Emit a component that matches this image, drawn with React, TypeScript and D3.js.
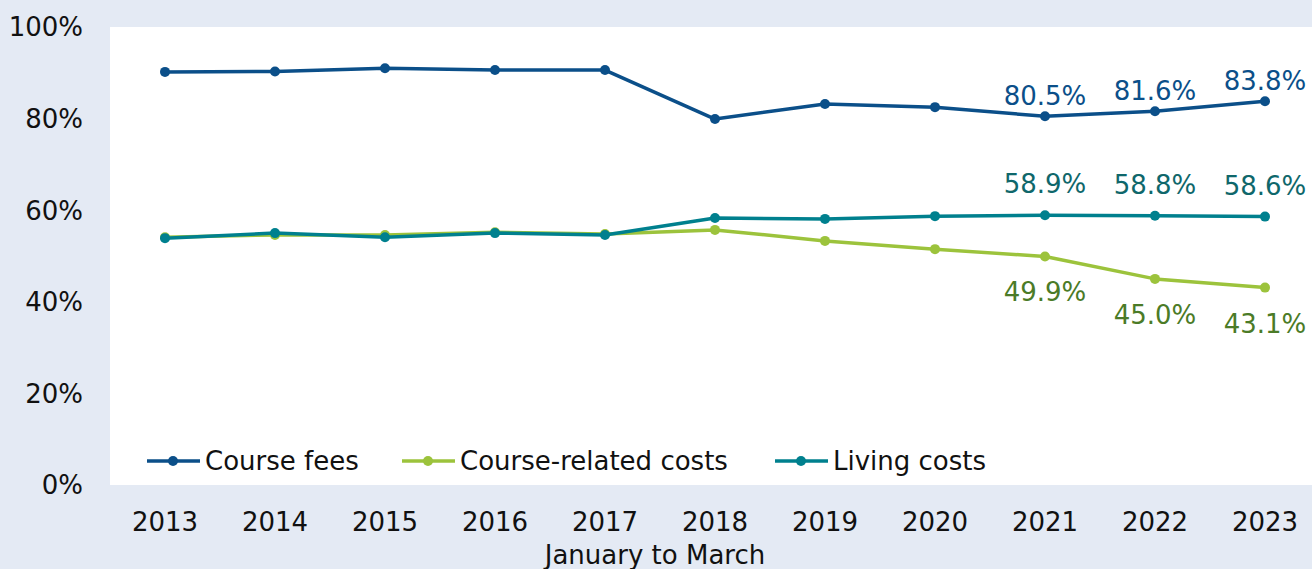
import React from "react";
import * as d3 from "d3";

const years = ["2013","2014","2015","2016","2017","2018","2019","2020","2021","2022","2023"];
const courseFees = [90.2, 90.3, 91.0, 90.6, 90.6, 79.9, 83.2, 82.5, 80.5, 81.6, 83.8];
const courseRelated = [54.1, 54.6, 54.6, 55.2, 54.8, 55.7, 53.3, 51.5, 49.9, 45.0, 43.1];
const livingCosts = [53.9, 55.0, 54.1, 55.0, 54.6, 58.3, 58.1, 58.7, 58.9, 58.8, 58.6];
const yTicks = [0, 20, 40, 60, 80, 100];
const labelledYears = ["2021", "2022", "2023"];

const W = 1312, H = 569;
const FONT = "'DejaVu Sans', Verdana, sans-serif";
const FS = 26;

export default function App() {
  const x = d3.scalePoint<string>().domain(years).range([165, 1265]);
  const y = d3.scaleLinear().domain([0, 100]).range([485, 27]);
  const line = d3.line<number>().x((_, i) => x(years[i])!).y((d) => y(d));

  const series = [
    { name: "Course fees", values: courseFees, color: "#0b4f89", label: "#0b4f89", dy: -11, lx: 147 },
    { name: "Course-related costs", values: courseRelated, color: "#9cc33c", label: "#4b7b27", dy: 45, lx: 402 },
    { name: "Living costs", values: livingCosts, color: "#00808e", label: "#0f676b", dy: -22, lx: 775 },
  ];

  return (
    <svg width={W} height={H} style={{ position: "absolute", left: 0, top: 0, display: "block" }}>
      <rect x={0} y={0} width={W} height={H} fill="#e4eaf4" />
      <rect x={110} y={y(100)} width={W - 110} height={y(0) - y(100)} fill="#ffffff" />
      {yTicks.map((t) => (
        <text key={t} x={83} y={y(t)} dy="0.36em" textAnchor="end" fontFamily={FONT} fontSize={FS} fill="#111">
          {t}%
        </text>
      ))}
      {years.map((yr) => (
        <text key={yr} x={x(yr)} y={531} textAnchor="middle" fontFamily={FONT} fontSize={FS} fill="#111">
          {yr}
        </text>
      ))}
      <text x={655} y={564} textAnchor="middle" fontFamily={FONT} fontSize={FS} fill="#111">
        January to March
      </text>
      {series.map((s) => (
        <g key={s.name}>
          <path d={line(s.values)!} fill="none" stroke={s.color} strokeWidth={3.5} strokeLinejoin="round" />
          {s.values.map((v, i) => (
            <circle key={i} cx={x(years[i])} cy={y(v)} r={5} fill={s.color} />
          ))}
        </g>
      ))}
      {series.map((s) =>
        s.values.map((v, i) =>
          labelledYears.includes(years[i]) ? (
            <text key={s.name + i} x={x(years[i])} y={y(v) + s.dy} textAnchor="middle" fontFamily={FONT} fontSize={FS} fill={s.label}>
              {v.toFixed(1)}%
            </text>
          ) : null
        )
      )}
      {series.map((s) => (
        <g key={"lg" + s.name}>
          <line x1={s.lx} x2={s.lx + 53} y1={461} y2={461} stroke={s.color} strokeWidth={3.5} />
          <circle cx={s.lx + 26} cy={461} r={5} fill={s.color} />
          <text x={s.lx + 58} y={461} dy="0.36em" fontFamily={FONT} fontSize={FS} fill="#111">
            {s.name}
          </text>
        </g>
      ))}
    </svg>
  );
}
